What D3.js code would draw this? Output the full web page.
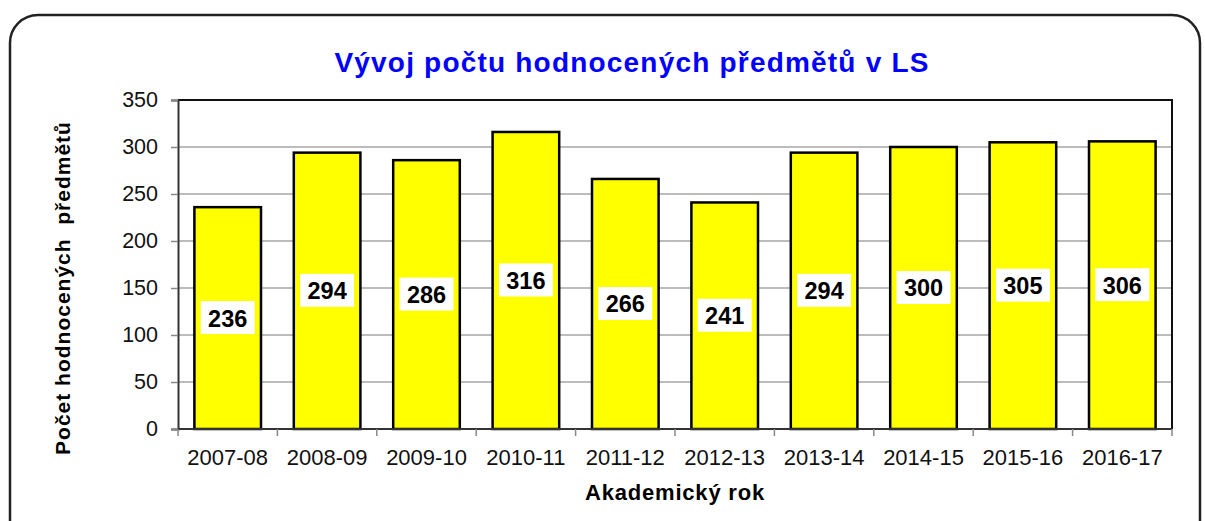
<!DOCTYPE html>
<html><head><meta charset="utf-8">
<script src="https://cdn.jsdelivr.net/npm/d3@7"></script>
<style>body{margin:0;background:#fff}svg{display:block}</style>
</head><body>
<svg id="c" width="1205" height="521"></svg>
<script>
const categories = ["2007-08","2008-09","2009-10","2010-11","2011-12","2012-13","2013-14","2014-15","2015-16","2016-17"];
const values = [236,294,286,316,266,241,294,300,305,306];
const yTicks = [0,50,100,150,200,250,300,350];
const title = "Vývoj počtu hodnocených předmětů v LS";
const xTitle = "Akademický rok";
const yTitle = "Počet hodnocených  předmětů";

const svg = d3.select("#c");
const font = "Arial, 'Liberation Sans', sans-serif";
const m = {l:178, r:1172, t:100, b:429};

svg.append("rect").attr("x",10).attr("y",15).attr("width",1190).attr("height",540)
  .attr("rx",28).attr("fill","#fff").attr("stroke","#222").attr("stroke-width",2.5);

const x = d3.scaleBand().domain(categories).range([m.l,m.r]).paddingInner(0.33).paddingOuter(0.165);
const y = d3.scaleLinear().domain([0,350]).range([m.b,m.t]);

// grid
svg.append("g").selectAll("line").data(yTicks.filter(d=>d>0 && d<350)).join("line")
  .attr("x1",m.l).attr("x2",m.r).attr("y1",d=>y(d)).attr("y2",d=>y(d))
  .attr("stroke","#a6a6a6").attr("stroke-width",1.5);

// bars
svg.append("g").selectAll("rect").data(values).join("rect")
  .attr("x",(d,i)=>x(categories[i])).attr("width",x.bandwidth())
  .attr("y",d=>y(d)).attr("height",d=>y(0)-y(d))
  .attr("fill","#ffff00").attr("stroke","#000").attr("stroke-width",2.5);

// plot border top/right
svg.append("path").attr("d",`M${m.l},${m.t}H${m.r}V${m.b}`).attr("fill","none").attr("stroke","#111").attr("stroke-width",2);

// y axis
const ya = d3.axisLeft(y).tickValues(yTicks).tickSize(7).tickPadding(13);
const gy = svg.append("g").attr("transform",`translate(${m.l},0)`).call(ya);
gy.select(".domain").attr("stroke","#333").attr("stroke-width",2);
gy.selectAll(".tick line").attr("stroke","#888").attr("stroke-width",1.5);
gy.selectAll("text").attr("font-family",font).attr("font-size",21.5).attr("fill","#111");

// x axis
const xb = d3.scaleLinear().domain([0,categories.length]).range([m.l,m.r]);
const gx = svg.append("g");
gx.append("line").attr("x1",m.l).attr("x2",m.r).attr("y1",m.b).attr("y2",m.b).attr("stroke","#333").attr("stroke-width",2);
gx.selectAll("line.t").data(d3.range(categories.length+1)).join("line").attr("class","t")
  .attr("x1",d=>xb(d)).attr("x2",d=>xb(d)).attr("y1",m.b).attr("y2",m.b+7)
  .attr("stroke","#888").attr("stroke-width",1.5);
gx.selectAll("text").data(categories).join("text")
  .attr("x",d=>x(d)+x.bandwidth()/2).attr("y",m.b+36).attr("text-anchor","middle")
  .attr("font-family",font).attr("font-size",22).attr("fill","#111").text(d=>d);

// value labels
const lg = svg.append("g").selectAll("g").data(values).join("g")
  .attr("transform",(d,i)=>`translate(${x(categories[i])+x.bandwidth()/2},${(y(d)+y(0))/2})`);
lg.append("rect").attr("x",-27).attr("y",-17).attr("width",54).attr("height",33).attr("fill","#fff");
lg.append("text").attr("text-anchor","middle").attr("dy","0.36em")
  .attr("font-family",font).attr("font-size",23.5).attr("font-weight","bold").attr("fill","#000").text(d=>d);

// titles
svg.append("text").attr("x",632).attr("y",72).attr("text-anchor","middle")
  .attr("font-family",font).attr("font-size",28).attr("letter-spacing",1.2).attr("font-weight","bold").attr("fill","#0000ff").text(title);
svg.append("text").attr("x",675).attr("y",500).attr("text-anchor","middle")
  .attr("font-family",font).attr("font-size",22).attr("letter-spacing",0.8).attr("font-weight","bold").attr("fill","#000").text(xTitle);
svg.append("text").attr("transform","translate(70,288) rotate(-90)").attr("text-anchor","middle")
  .attr("font-family",font).attr("font-size",21).attr("letter-spacing",1).attr("font-weight","bold").attr("fill","#000")
  .attr("xml:space","preserve").style("white-space","pre").text(yTitle);
</script>
</body></html>
